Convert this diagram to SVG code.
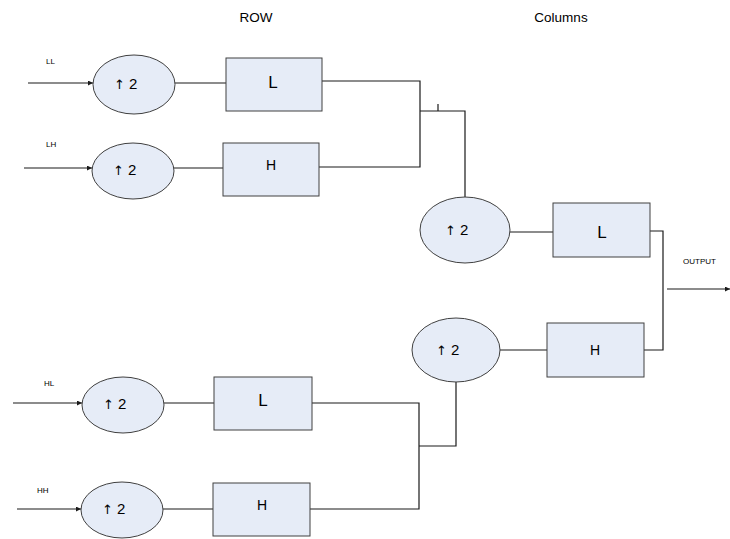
<svg xmlns="http://www.w3.org/2000/svg" width="730" height="539" viewBox="0 0 730 539">
  <style>
    .node ellipse, .node rect { fill: #e6ecf7; stroke: #404040; stroke-width: 1; }
    .wire { fill: none; stroke: #1a1a1a; stroke-width: 1.2; }
    .lbl { font-family: "Liberation Sans", Arial, sans-serif; fill: #000; }
    .sm { font-size: 8px; }
    .title { font-size: 13.5px; }
    .up { font-size: 15px; }
    .arr { font-family: "DejaVu Sans", sans-serif; font-size: 13px; }
    .big { font-size: 17px; text-anchor: middle; }
    .hh { font-size: 14px; text-anchor: middle; }
  </style>
  <defs>
    <marker id="ah" viewBox="0 0 6 6" refX="6" refY="3" markerWidth="5" markerHeight="5" orient="auto" markerUnits="userSpaceOnUse">
      <path d="M0,0 L6,3 L0,6 z" fill="#1a1a1a"/>
    </marker>
  </defs>
  <rect width="730" height="539" fill="#fff"/>

  <text class="lbl title" x="256" y="22" text-anchor="middle">ROW</text>
  <text class="lbl title" x="561" y="22" text-anchor="middle">Columns</text>

  <!-- inputs and labels -->
  <text class="lbl sm" x="46" y="64">LL</text>
  <text class="lbl sm" x="46" y="147">LH</text>
  <text class="lbl sm" x="44" y="386">HL</text>
  <text class="lbl sm" x="37" y="493">HH</text>
  <text class="lbl sm" x="683" y="264">OUTPUT</text>

  <g id="connectors">
    <line class="wire" x1="28" y1="83" x2="93" y2="83" marker-end="url(#ah)"/>
    <line class="wire" x1="24" y1="168" x2="92" y2="168" marker-end="url(#ah)"/>
    <line class="wire" x1="13" y1="403" x2="82" y2="403" marker-end="url(#ah)"/>
    <line class="wire" x1="17" y1="509" x2="81" y2="509" marker-end="url(#ah)"/>

    <line class="wire" x1="175" y1="83" x2="226" y2="83"/>
    <line class="wire" x1="174" y1="168" x2="223" y2="168"/>
    <line class="wire" x1="164" y1="403" x2="214" y2="403"/>
    <line class="wire" x1="163" y1="509" x2="213" y2="509"/>

    <!-- row merge, top pair -->
    <polyline class="wire" points="322,81 420,81 420,167 319,167"/>
    <polyline class="wire" points="420,111 465,111 465,197"/>
    <line class="wire" x1="438" y1="104" x2="438" y2="111" stroke="#666"/>

    <!-- row merge, bottom pair -->
    <polyline class="wire" points="312,403 419,403 419,509 310,509"/>
    <polyline class="wire" points="419,446 456,446 456,382"/>

    <!-- column stage -->
    <line class="wire" x1="510" y1="232" x2="553" y2="232"/>
    <line class="wire" x1="500" y1="350" x2="547" y2="350"/>
    <polyline class="wire" points="650,231 663,231 663,350 644,350"/>
    <line class="wire" x1="667" y1="289" x2="730" y2="289" marker-end="url(#ah)"/>
  </g>

  <g id="up-ll" class="node">
    <ellipse cx="134" cy="84.5" rx="41" ry="29.5"/>
    <text class="lbl up" x="114" y="89"><tspan class="arr">↑</tspan><tspan dx="4">2</tspan></text>
  </g>
  <g id="up-lh" class="node">
    <ellipse cx="133" cy="171" rx="41" ry="28"/>
    <text class="lbl up" x="113" y="175"><tspan class="arr">↑</tspan><tspan dx="4">2</tspan></text>
  </g>
  <g id="up-hl" class="node">
    <ellipse cx="123" cy="405" rx="41" ry="28"/>
    <text class="lbl up" x="103" y="409"><tspan class="arr">↑</tspan><tspan dx="4">2</tspan></text>
  </g>
  <g id="up-hh" class="node">
    <ellipse cx="122" cy="510" rx="41" ry="28"/>
    <text class="lbl up" x="102" y="514"><tspan class="arr">↑</tspan><tspan dx="4">2</tspan></text>
  </g>
  <g id="up-col-l" class="node">
    <ellipse cx="465" cy="230" rx="45" ry="33"/>
    <text class="lbl up" x="445" y="235"><tspan class="arr">↑</tspan><tspan dx="4">2</tspan></text>
  </g>
  <g id="up-col-h" class="node">
    <ellipse cx="456" cy="350" rx="44" ry="32"/>
    <text class="lbl up" x="436" y="355"><tspan class="arr">↑</tspan><tspan dx="4">2</tspan></text>
  </g>

  <g id="filt-ll" class="node">
    <rect x="226" y="58" width="96" height="53"/>
    <text class="lbl big" x="273" y="88">L</text>
  </g>
  <g id="filt-lh" class="node">
    <rect x="223" y="143" width="96" height="53"/>
    <text class="lbl hh" x="271" y="170">H</text>
  </g>
  <g id="filt-hl" class="node">
    <rect x="214" y="377" width="98" height="53"/>
    <text class="lbl big" x="263" y="406">L</text>
  </g>
  <g id="filt-hh" class="node">
    <rect x="213" y="483" width="97" height="53"/>
    <text class="lbl hh" x="262" y="510">H</text>
  </g>
  <g id="filt-col-l" class="node">
    <rect x="553" y="203" width="97" height="54"/>
    <text class="lbl big" x="602" y="238">L</text>
  </g>
  <g id="filt-col-h" class="node">
    <rect x="547" y="323" width="97" height="54"/>
    <text class="lbl hh" x="595" y="355">H</text>
  </g>
</svg>
